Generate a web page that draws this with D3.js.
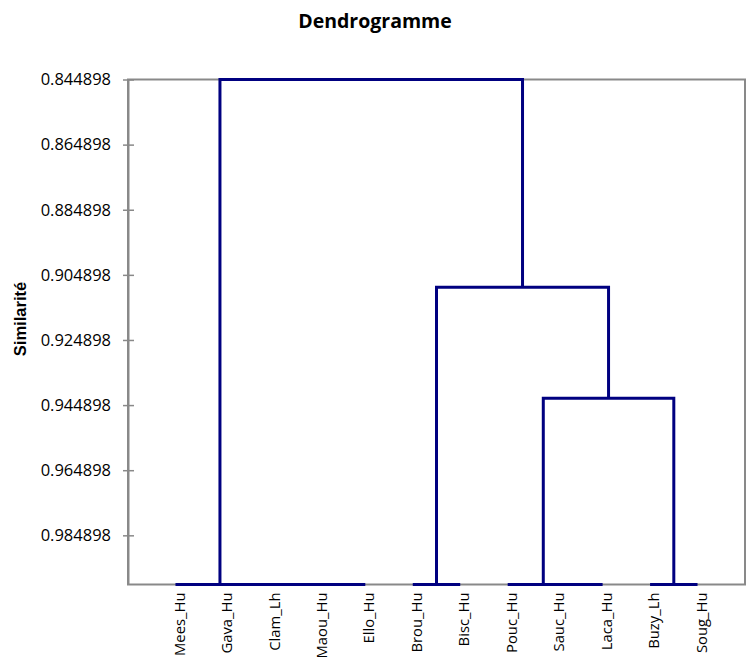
<!DOCTYPE html>
<html>
<head>
<meta charset="utf-8">
<script src="https://cdn.jsdelivr.net/npm/d3@7"></script>
<style>
  body { margin: 0; background: #fff; }
  svg { display: block; }
</style>
</head>
<body>
<svg id="chart" width="749" height="661"></svg>
<script>
// ---- data ----
const leaves = ["Mees_Hu","Gava_Hu","Clam_Lh","Maou_Hu","Ello_Hu","Brou_Hu","Bisc_Hu","Pouc_Hu","Sauc_Hu","Laca_Hu","Buzy_Lh","Soug_Hu"];
// merges: children are leaf indices (numbers) or previous merges ("m" + index); sim = similarity level
const mergeA   = [3, 2, 1, 0, 5, 8, 7, 10, "m6", "m4", "m3"];
const mergeB   = [4, "m0", "m1", "m2", 6, 9, "m5", 11, "m7", "m8", "m9"];
const mergeSim = [1.0, 1.0, 1.0, 1.0, 1.0, 1.0, 1.0, 1.0, 0.94281, 0.90871, 0.844898];
const tickValues = [0.844898, 0.864898, 0.884898, 0.904898, 0.924898, 0.944898, 0.964898, 0.984898];
const leafSim = 1.0;

// ---- layout ----
const svg = d3.select("#chart");
const L = 128, R = 745, T = 79.5, B = 584.5;
const x = d3.scaleLinear().domain([-1, leaves.length]).range([L, R]);
const y = d3.scaleLinear().domain([0.844898, 1.0]).range([T, B]);
const navy = "#000080", gray = "#898989";

// title
svg.append("text").attr("x", 375).attr("y", 28).attr("text-anchor", "middle")
  .style("font-family", "'Open Sans', sans-serif").style("font-weight", "bold").style("font-size", "19.5px")
  .text("Dendrogramme");

// y title
svg.append("text").attr("transform", "translate(26,319) rotate(-90)").attr("text-anchor", "middle")
  .style("font-family", "'Liberation Sans', Arial, sans-serif").style("font-weight", "bold").style("font-size", "16.5px")
  .text("Similarité");

// frame
svg.append("rect").attr("x", L).attr("y", T).attr("width", R - L).attr("height", B - T)
  .attr("fill", "none").attr("stroke", gray).attr("stroke-width", 2);

// y axis
const yAxis = d3.axisLeft(y).tickValues(tickValues).tickFormat(d => d.toFixed(6)).tickSizeInner(5).tickSizeOuter(0).tickPadding(12);
const gy = svg.append("g").attr("transform", `translate(${L},0)`).call(yAxis);
gy.select(".domain").attr("stroke", gray).attr("stroke-width", 2);
gy.selectAll(".tick line").attr("stroke", gray).attr("stroke-width", 1.5).attr("x1", -5).attr("x2", 6);
gy.selectAll(".tick text").style("font-family", "'Open Sans', sans-serif").style("font-size", "16.5px").attr("fill", "#000");

// compute node positions
const nodes = {};
leaves.forEach((name, i) => nodes[i] = { x: i, h: leafSim });
mergeA.forEach((a, i) => {
  const na = nodes[a], nb = nodes[mergeB[i]];
  nodes["m" + i] = { x: (na.x + nb.x) / 2, h: mergeSim[i], a: na, b: nb };
});

// draw links
const g = svg.append("g");
mergeA.forEach((a, i) => {
  const n = nodes["m" + i];
  const p = d3.path();
  p.moveTo(x(n.a.x), y(n.a.h));
  p.lineTo(x(n.a.x), y(n.h));
  p.lineTo(x(n.b.x), y(n.h));
  p.lineTo(x(n.b.x), y(n.b.h));
  g.append("path").attr("d", p.toString()).attr("fill", "none")
    .attr("stroke", navy).attr("stroke-width", 3).attr("stroke-linejoin", "miter").attr("stroke-linecap", "butt");
});

// leaf labels
svg.append("g").selectAll("text").data(leaves).join("text")
  .attr("transform", (d, i) => `translate(${x(i) + 4},${B + 8}) rotate(-90)`)
  .attr("text-anchor", "end").attr("dy", "0.35em")
  .style("font-family", "'Open Sans', sans-serif").style("font-size", "14.8px")
  .text(d => d);
</script>
</body>
</html>
